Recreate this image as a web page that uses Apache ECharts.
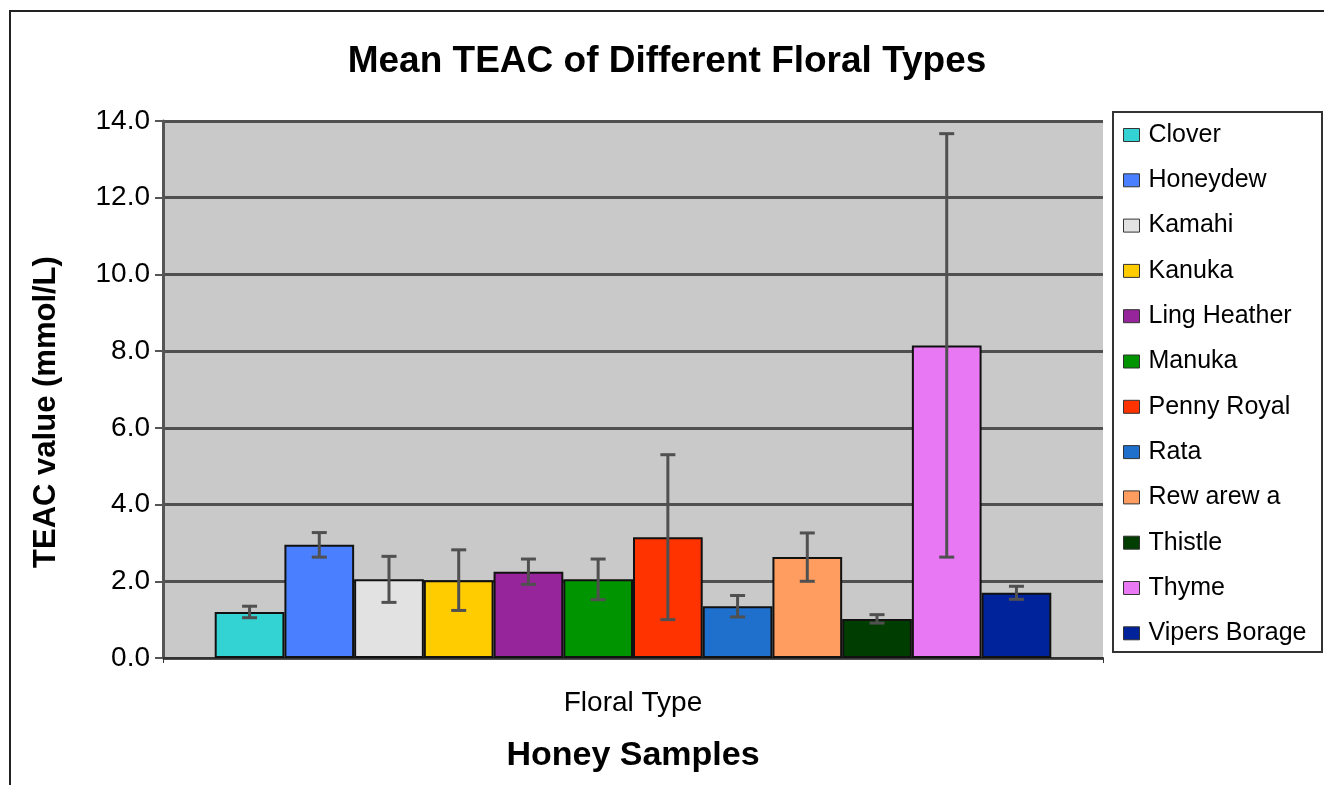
<!DOCTYPE html>
<html>
<head>
<meta charset="utf-8">
<script src="https://cdn.jsdelivr.net/npm/echarts@6/dist/echarts.min.js"></script>
<style>
html,body{margin:0;padding:0;background:#fff;}
#chart{width:1324px;height:785px;}
</style>
</head>
<body>
<div id="chart"></div>
<script>
const categories = ['Floral Type'];
const floralTypes = ['Clover','Honeydew','Kamahi','Kanuka','Ling Heather','Manuka','Penny Royal','Rata','Rew arew a','Thistle','Thyme','Vipers Borage'];
const meanTEAC = [1.20, 2.95, 2.05, 2.03, 2.25, 2.05, 3.15, 1.35, 2.63, 1.02, 8.15, 1.70];
const errTEAC  = [0.15, 0.32, 0.60, 0.79, 0.33, 0.53, 2.15, 0.28, 0.63, 0.11, 5.52, 0.17];
const barColors = ['#33d3d3','#4a80ff','#e2e2e2','#ffcc00','#96249a','#009400','#ff3300','#1f70cc','#ff9c60','#003d00','#e878f4','#00229a'];
const yTicks = ['0.0','2.0','4.0','6.0','8.0','10.0','12.0','14.0'];
const titleText = 'Mean TEAC of Different Floral Types';
const yAxisName = 'TEAC value (mmol/L)';
const xAxisName = 'Honey Samples';

const FONT = 'Liberation Sans, Arial, sans-serif';
const CAT_GAP = 0.11;
const chart = echarts.init(document.getElementById('chart'));

const barSeries = floralTypes.map((name, i) => ({
  name: name,
  type: 'bar',
  data: [meanTEAC[i]],
  barGap: '0%',
  barCategoryGap: (CAT_GAP*100) + '%',
  itemStyle: { color: barColors[i], borderColor: '#111', borderWidth: 2 },
  emphasis: { disabled: true },
  z: 2
}));

const errData = floralTypes.map((n, i) => [0, meanTEAC[i] - errTEAC[i], meanTEAC[i] + errTEAC[i], i]);

const errSeries = {
  type: 'custom',
  name: 'err',
  data: errData,
  z: 10,
  silent: true,
  encode: { x: 0, y: [1, 2] },
  renderItem: function (params, api) {
    const idx = api.value(3);
    const center = api.coord([api.value(0), 0])[0];
    const band = api.size([1, 0])[0];
    const total = band * (1 - CAT_GAP);
    const bw = total / floralTypes.length;
    const x = center - total / 2 + bw * (idx + 0.5);
    const yLo = api.coord([0, api.value(1)])[1];
    const yHi = api.coord([0, api.value(2)])[1];
    const cap = 7.5;
    const style = { stroke: '#505050', lineWidth: 3 };
    return {
      type: 'group',
      children: [
        { type: 'line', shape: { x1: x, y1: yLo, x2: x, y2: yHi }, style: style },
        { type: 'line', shape: { x1: x - cap, y1: yHi, x2: x + cap, y2: yHi }, style: style },
        { type: 'line', shape: { x1: x - cap, y1: yLo, x2: x + cap, y2: yLo }, style: style }
      ]
    };
  }
};

chart.setOption({
  animation: false,
  backgroundColor: '#fff',
  textStyle: { fontFamily: FONT },
  graphic: [
    { type: 'rect', shape: { x: 10, y: 11, width: 1330, height: 800 }, style: { fill: 'none', stroke: '#222', lineWidth: 2 }, z: -1 },
    { type: 'rect', shape: { x: 1113, y: 112, width: 209, height: 540 }, style: { fill: '#fff', stroke: '#333', lineWidth: 2 }, z: 0 },
    { type: 'text', x: 667, y: 62, z: 5,
      style: { text: titleText, fontSize: 37, fontWeight: 'bold', fontFamily: FONT, fill: '#000', align: 'center', verticalAlign: 'middle' } },
    { type: 'text', x: 46, y: 412, rotation: Math.PI / 2, z: 5,
      style: { text: yAxisName, fontSize: 31, fontWeight: 'bold', fontFamily: FONT, fill: '#000', align: 'center', verticalAlign: 'middle' } }
  ],
  legend: {
    data: floralTypes,
    orient: 'vertical',
    left: 1118,
    top: 117,
    itemWidth: 16,
    itemHeight: 13,
    itemGap: 19.3,
    icon: 'rect',
    itemStyle: { borderWidth: 1, borderColor: '#333' },
    textStyle: { fontSize: 25, lineHeight: 26, color: '#000', fontFamily: FONT, padding: [0, 0, 0, 4] },
    selectedMode: false,
    z: 5
  },
  grid: {
    left: 163, right: 221, top: 121, bottom: 127,
    show: true, backgroundColor: '#c9c9c9', borderWidth: 0
  },
  xAxis: {
    type: 'category',
    data: categories,
    name: xAxisName,
    nameLocation: 'middle',
    nameGap: 81,
    nameTextStyle: { fontSize: 34, fontWeight: 'bold', color: '#000' },
    axisLine: { lineStyle: { color: '#333', width: 2 } },
    axisTick: { show: true, length: 5, lineStyle: { color: '#333' } },
    axisLabel: { fontSize: 28, color: '#000', margin: 31 }
  },
  yAxis: {
    type: 'value',
    min: 0, max: 14, interval: 2,
    axisLine: { show: true, lineStyle: { color: '#555', width: 3 } },
    axisTick: { show: true, length: 8, inside: false, lineStyle: { color: '#555', width: 2 } },
    axisLabel: { fontSize: 28, color: '#000', margin: 13, formatter: v => yTicks[Math.round(v / 2)] },
    splitLine: { show: true, lineStyle: { color: '#505050', width: 3 } }
  },
  series: barSeries.concat([errSeries])
});
</script>
</body>
</html>
